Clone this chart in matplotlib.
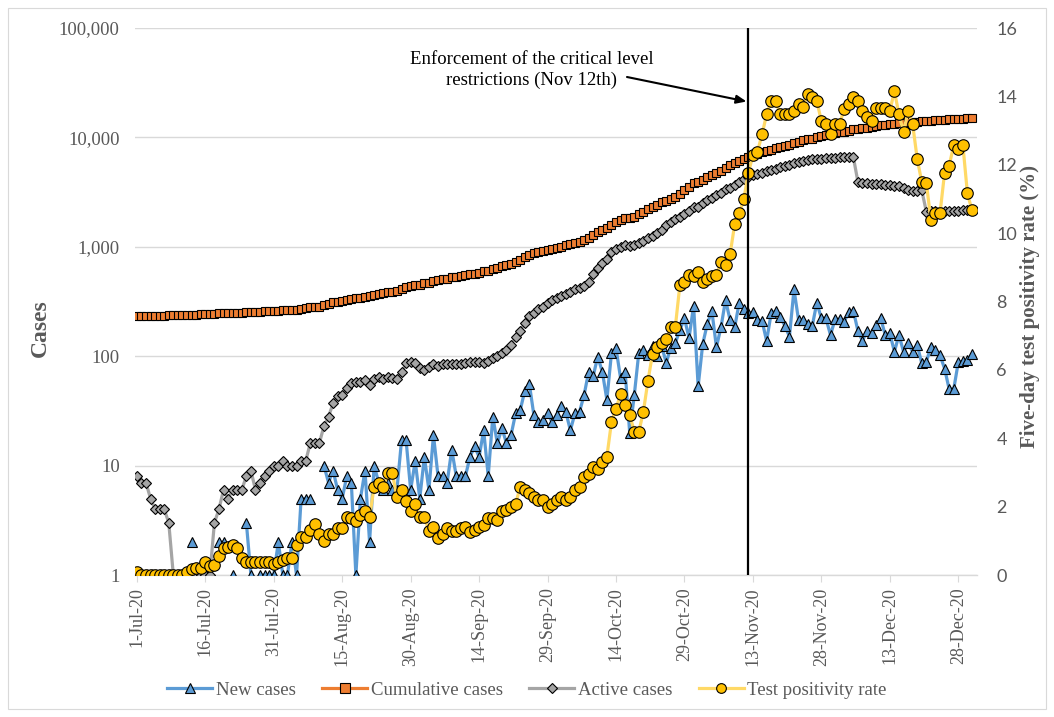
import numpy as np
import matplotlib
matplotlib.use("Agg")
import matplotlib.pyplot as plt
from matplotlib.ticker import FixedLocator, FuncFormatter, NullLocator
from matplotlib.lines import Line2D
from matplotlib.patches import Rectangle

SERIF = ["Liberation Serif", "DejaVu Serif"]
SANS = ["Lato", "Liberation Sans", "DejaVu Sans"]

# ---------------------------------------------------------------
# Daily data, 1 Jul 2020 .. 31 Dec 2020 (one value per day)
# ---------------------------------------------------------------
tick_labels = ["1-Jul-20", "16-Jul-20", "31-Jul-20", "15-Aug-20", "30-Aug-20",
               "14-Sep-20", "29-Sep-20", "14-Oct-20", "29-Oct-20", "13-Nov-20",
               "28-Nov-20", "13-Dec-20", "28-Dec-20"]
tick_step = 15          # days between labelled dates
event_day = 134         # 12 Nov 2020

# None = no case reported that day (cannot be shown on a log axis)
new_cases = [
    None, None, None, None, None, None, None, None, None, None,
    None, None, 2, None, None, None, None, None, 2, 2,
    None, 1, None, None, 3, 1, None, 1, 1, 1,
    1, 2, 1, 1, 2, 1, 5, 5, 5, None,
    None, 10, 7, 9, 6, 5, 8, 7, 1, 5,
    9, 2, 10, 7, 6, 7, 6, 6, 17, 17,
    6, 11, 5, 12, 6, 19, 8, 8, 7, 14,
    8, 8, 8, 12, 15, 12, 21, 8, 28, 16,
    22, 16, 19, 30, 32, 48, 56, 29, 25, 26,
    30, 25, 29, 35, 31, 21, 30, 31, 44, 72,
    66, 99, 72, 40, 106, 118, 63, 72, 20, 44,
    108, 114, 102, 124, 100, 124, 87, 120, 132, 174,
    222, 146, 290, 53, 129, 197, 260, 121, 184, 326,
    214, 184, 308, 268, 247, 251, 214, 210, 138, 247,
    258, 227, 190, 151, 408, 214, 214, 199, 189, 308,
    222, 222, 156, 217, 217, 207, 252, 261, 171, 138,
    171, 162, 193, 222, 156, 162, 110, 156, 110, 131,
    110, 126, 86, 89, 122, 114, 102, 77, 50, 50,
    88, 90, 92, 104,
]

cumulative_cases = [
    233, 233, 234, 234, 234, 235, 235, 236, 236, 237,
    237, 238, 240, 240, 241, 242, 243, 244, 246, 248,
    248, 249, 250, 250, 253, 254, 255, 256, 257, 258,
    259, 261, 262, 264, 266, 267, 272, 277, 282, 283,
    284, 294, 301, 310, 316, 321, 329, 336, 337, 342,
    351, 353, 363, 370, 376, 383, 389, 395, 412, 429,
    435, 446, 451, 463, 469, 488, 496, 504, 511, 525,
    533, 541, 549, 561, 570, 578, 598, 606, 632, 645,
    666, 682, 700, 728, 758, 800, 850, 876, 898, 917,
    935, 955, 978, 1003, 1030, 1050, 1078, 1105, 1145, 1210,
    1270, 1360, 1425, 1470, 1570, 1685, 1745, 1815, 1835, 1880,
    1985, 2095, 2195, 2320, 2420, 2546, 2633, 2739, 2870, 3050,
    3300, 3520, 3850, 3920, 4080, 4300, 4580, 4720, 4930, 5300,
    5560, 5800, 6100, 6380, 6630, 6900, 7117, 7328, 7464, 7711,
    7969, 8196, 8386, 8537, 8945, 9159, 9373, 9572, 9761, 10069,
    10291, 10513, 10669, 10886, 11103, 11310, 11562, 11823, 11994, 12132,
    12303, 12465, 12658, 12880, 13036, 13198, 13308, 13464, 13574, 13705,
    13815, 13941, 14027, 14116, 14238, 14352, 14454, 14531, 14581, 14631,
    14719, 14809, 14901, 15005,
]

active_cases = [
    8, 7, 7, 5, 4, 4, 4, 3, 1, 1,
    1, 1, 1, 1, 1, 1, 1, 3, 4, 6,
    5, 6, 6, 6, 8, 9, 6, 7, 8, 9,
    10, 10, 11, 10, 10, 10, 11, 11, 16, 16,
    16, 23, 28, 37, 43, 44, 51, 57, 58, 58,
    61, 55, 62, 64, 62, 65, 63, 62, 71, 86,
    89, 86, 78, 75, 79, 85, 82, 84, 85, 85,
    85, 85, 86, 89, 88, 89, 87, 90, 96, 100,
    106, 114, 126, 151, 170, 202, 232, 247, 268, 284,
    308, 323, 338, 356, 372, 389, 408, 417, 440, 480,
    561, 637, 707, 766, 887, 947, 1000, 1040, 1020, 1040,
    1075, 1130, 1200, 1260, 1330, 1430, 1580, 1675, 1784, 1884,
    1995, 2138, 2296, 2330, 2530, 2678, 2812, 2974, 3120, 3355,
    3468, 3672, 3950, 4150, 4380, 4500, 4600, 4700, 4900, 5050,
    5120, 5350, 5500, 5620, 5840, 5920, 6070, 6160, 6290, 6400,
    6400, 6440, 6530, 6530, 6580, 6580, 6620, 6620, 3930, 3820,
    3820, 3780, 3780, 3750, 3670, 3670, 3610, 3590, 3480, 3280,
    3240, 3210, 3280, 2094, 2130, 2130, 2130, 2130, 2130, 2130,
    2130, 2160, 2190, 2190,
]

positivity_rate = [
    0.1, 0, 0, 0, 0, 0, 0, 0, 0, 0,
    0, 0.1, 0.17, 0.2, 0.2, 0.37, 0.25, 0.3, 0.57, 0.78,
    0.83, 0.88, 0.78, 0.49, 0.39, 0.39, 0.39, 0.39, 0.39, 0.39,
    0.32, 0.39, 0.44, 0.49, 0.5, 0.88, 1.1, 1.1, 1.32, 1.48,
    1.2, 1.0, 1.19, 1.2, 1.37, 1.37, 1.69, 1.66, 1.58, 1.75,
    1.87, 1.69, 2.58, 2.68, 2.58, 2.97, 2.97, 2.27, 2.49, 2.17,
    1.88, 2.08, 1.7, 1.7, 1.29, 1.4, 1.07, 1.2, 1.37, 1.29,
    1.3, 1.37, 1.4, 1.27, 1.32, 1.4, 1.47, 1.68, 1.68, 1.6,
    1.86, 1.9, 1.98, 2.07, 2.58, 2.5, 2.39, 2.29, 2.19, 2.19,
    2.0, 2.08, 2.19, 2.29, 2.19, 2.29, 2.49, 2.58, 2.87, 2.95,
    3.15, 3.09, 3.3, 3.46, 4.47, 4.87, 5.28, 4.98, 4.69, 4.19,
    4.19, 4.78, 5.68, 6.47, 6.67, 6.79, 6.89, 7.26, 7.26, 8.49,
    8.58, 8.77, 8.74, 8.87, 8.56, 8.66, 8.75, 8.77, 9.16, 9.06,
    9.38, 10.26, 10.58, 10.99, 11.76, 12.28, 12.38, 12.89, 13.47, 13.87,
    13.87, 13.48, 13.48, 13.48, 13.57, 13.79, 13.68, 14.08, 13.97, 13.86,
    13.28, 13.18, 12.89, 13.19, 13.19, 13.64, 13.77, 13.99, 13.87, 13.57,
    13.4, 13.27, 13.67, 13.67, 13.67, 13.57, 14.16, 13.47, 12.96, 13.57,
    13.19, 12.17, 11.49, 11.47, 10.38, 10.58, 10.58, 11.77, 11.97, 12.57,
    12.46, 12.59, 11.16, 10.67,
]

n_days = len(cumulative_cases)
assert len(new_cases) == n_days and len(active_cases) == n_days and len(positivity_rate) == n_days, \
    (len(new_cases), len(cumulative_cases), len(active_cases), len(positivity_rate))

days = np.arange(n_days)
new_arr = np.array([np.nan if v is None else v for v in new_cases], dtype=float)
cum_arr = np.array(cumulative_cases, dtype=float)
act_arr = np.array(active_cases, dtype=float)
tpr_arr = np.array(positivity_rate, dtype=float)

# ---------------------------------------------------------------
# Styling
# ---------------------------------------------------------------
C_NEW, C_CUM, C_ACT = "#5B9BD5", "#ED7D31", "#A5A5A5"
C_TPR_LINE, C_TPR_MARK = "#FFD966", "#FFC000"
GRID = "#D9D9D9"
TXT = "#595959"

W, H = 1054, 717
fig = plt.figure(figsize=(W / 100, H / 100), dpi=100)
fig.patch.set_facecolor("white")

# thin chart-area border
fig.add_artist(Rectangle((8 / W, 8 / H), (W - 16) / W, (H - 16) / H,
                         transform=fig.transFigure, fill=False,
                         ec=GRID, lw=0.8))

left, right, top, bottom = 135, 977, 28, 575
ax = fig.add_axes([left / W, 1 - bottom / H, (right - left) / W, (bottom - top) / H])
ax2 = ax.twinx()

# --- primary axis: cases (log) ---
ax.set_yscale("log")
ax.set_ylim(1, 1e5)
ax.set_xlim(-0.4, n_days + 0.1)
ax.yaxis.set_major_locator(FixedLocator([1, 10, 100, 1000, 10000, 100000]))
ax.yaxis.set_minor_locator(NullLocator())
ax.yaxis.set_major_formatter(FuncFormatter(lambda v, p: f"{v:,.0f}"))
ax.grid(axis="y", color=GRID, lw=1.0)
ax.set_axisbelow(True)
for s in ("top", "left", "right"):
    ax.spines[s].set_visible(False)
ax.spines["bottom"].set_color(GRID)
ax.spines["bottom"].set_linewidth(1.0)
ax.tick_params(axis="y", length=0, pad=11, labelsize=13.5, labelcolor=TXT)
for lbl in ax.get_yticklabels():
    lbl.set_fontfamily(SERIF)

ax.set_xticks(np.arange(len(tick_labels)) * tick_step)
ax.set_xticklabels(tick_labels, rotation=90, fontsize=13, color=TXT, family=SERIF)
ax.tick_params(axis="x", length=5, color=GRID, pad=4)

ax.plot(days, new_arr, color=C_NEW, lw=2.3, marker="^", ms=7.5,
        mfc=C_NEW, mec="black", mew=0.8, zorder=3)
ax.plot(days, cum_arr, color=C_CUM, lw=2.3, marker="s", ms=5.8,
        mfc=C_CUM, mec="black", mew=0.8, zorder=4)
ax.plot(days, act_arr, color=C_ACT, lw=2.3, marker="D", ms=5.2,
        mfc=C_ACT, mec="black", mew=0.8, zorder=5)

# --- secondary axis: positivity rate ---
ax2.set_ylim(0, 16)
ax2.set_yticks(np.arange(0, 17, 2))
for s in ax2.spines.values():
    s.set_visible(False)
ax2.tick_params(axis="y", length=0, pad=14, labelsize=13, labelcolor=TXT)
for lbl in ax2.get_yticklabels():
    lbl.set_fontfamily(SANS)
ax2.plot(days, tpr_arr, color=C_TPR_LINE, lw=2.3, marker="o", ms=8.3,
         mfc=C_TPR_MARK, mec="black", mew=0.8, zorder=3)

# event marker
ax2.axvline(event_day, color="black", lw=1.6, zorder=6)
fig.text(532 / W, 1 - 70 / H,
         "Enforcement of the critical level\nrestrictions (Nov 12th)",
         ha="center", va="center", fontsize=13.5, family=SERIF,
         color="black", linespacing=1.3)
ax2.annotate("", xy=(event_day - 0.4, 13.85), xycoords="data",
             xytext=(627, H - 77), textcoords="figure pixels",
             arrowprops=dict(arrowstyle="-|>,head_length=0.6,head_width=0.25",
                             color="black", lw=1.5, shrinkA=0, shrinkB=0),
             zorder=7)

# axis titles
fig.text(40 / W, 1 - 328 / H, "Cases", rotation=90, ha="center", va="center",
         fontsize=17, fontweight="bold", family=SERIF, color=TXT)
fig.text(1030 / W, 1 - 307 / H, "Five-day test positivity rate (%)", rotation=90,
         ha="center", va="center", fontsize=15, fontweight="bold",
         family=SERIF, color=TXT)

# legend
handles = [
    Line2D([], [], color=C_NEW, lw=2.3, marker="^", ms=7, mfc=C_NEW, mec="black", mew=0.8),
    Line2D([], [], color=C_CUM, lw=2.3, marker="s", ms=6.5, mfc=C_CUM, mec="black", mew=0.8),
    Line2D([], [], color=C_ACT, lw=2.3, marker="D", ms=5.5, mfc=C_ACT, mec="black", mew=0.8),
    Line2D([], [], color=C_TPR_LINE, lw=2.3, marker="o", ms=7, mfc=C_TPR_MARK, mec="black", mew=0.8),
]
names = ["New cases", "Cumulative cases", "Active cases", "Test positivity rate"]
leg = fig.legend(handles, names, loc="center", bbox_to_anchor=(0.5, 1 - 690 / H),
                 bbox_transform=fig.transFigure, ncol=4, frameon=False,
                 handlelength=2.4, handletextpad=0.2, columnspacing=1.4,
                 prop={"family": SERIF, "size": 13.5})
for t in leg.get_texts():
    t.set_color(TXT)

fig.savefig("out.png", dpi=100)
